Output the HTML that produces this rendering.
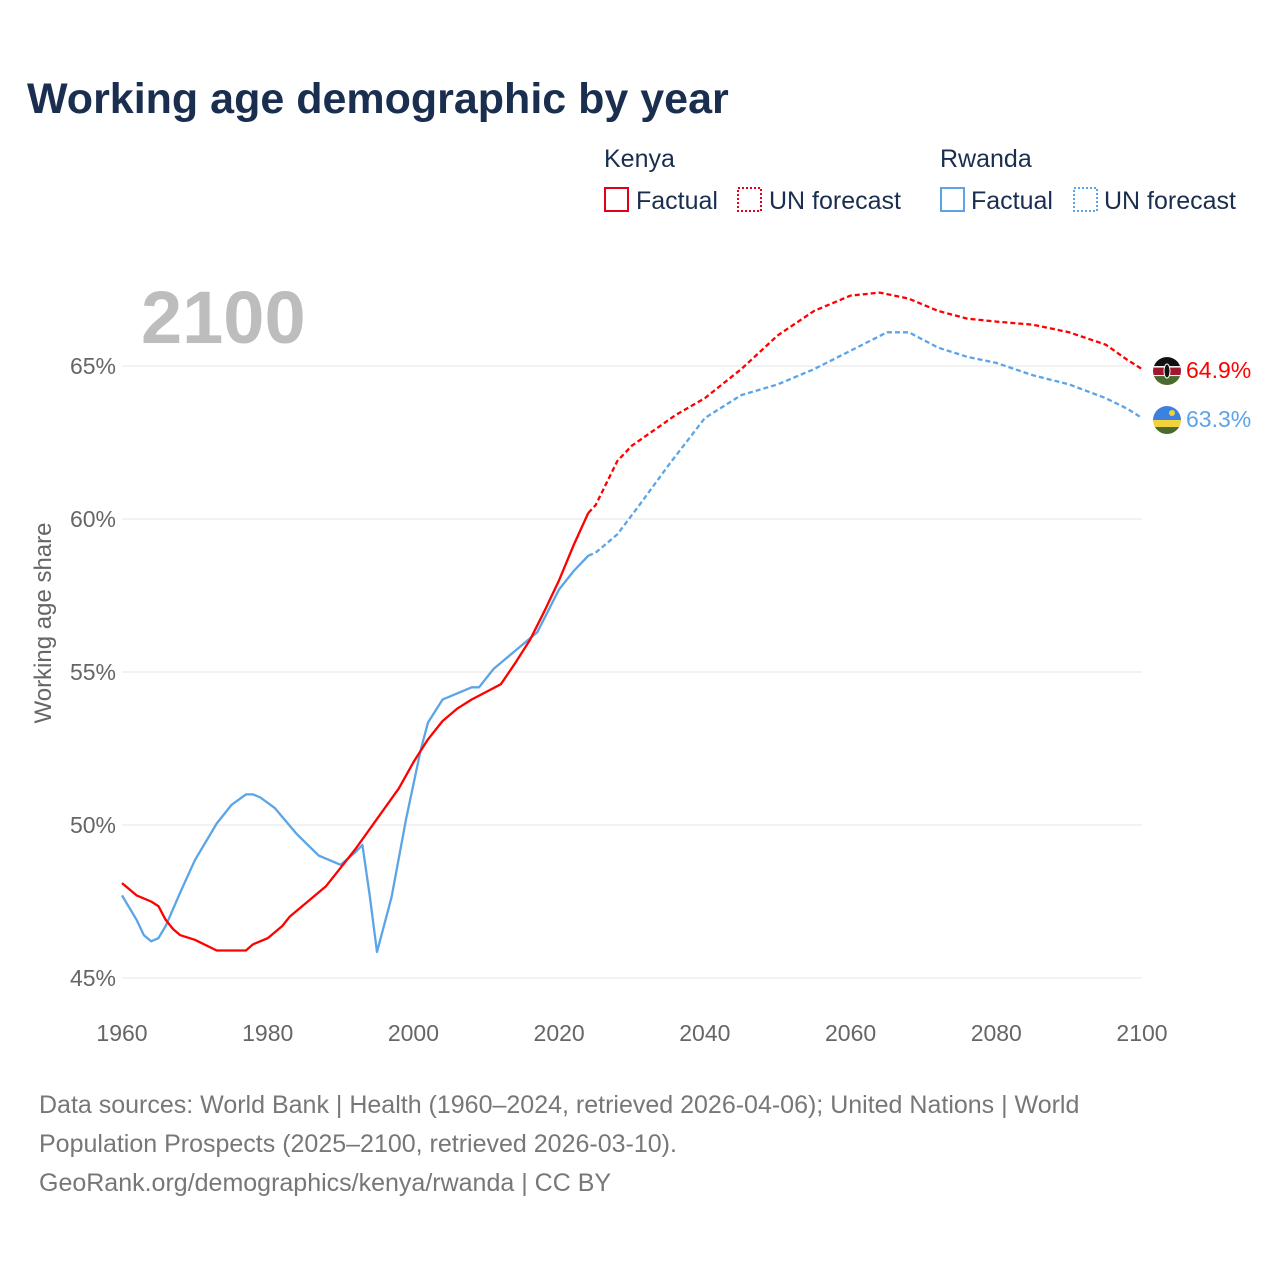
<!DOCTYPE html>
<html><head><meta charset="utf-8"><style>
body{margin:0;background:#fff;font-family:"Liberation Sans",sans-serif}
svg text{font-family:"Liberation Sans",sans-serif}
</style></head><body>
<svg id="c" width="1280" height="1280" viewBox="0 0 1280 1280">
<text x="27" y="113" font-size="43" font-weight="bold" fill="#1a2e4f">Working age demographic by year</text>
<g font-size="25" fill="#1a2e4f">
<text x="604" y="167" fill="#1a2e4f">Kenya</text>
<rect x="605" y="188" width="23" height="23" fill="none" stroke="#e0001b" stroke-width="2"/>
<text x="636" y="209" fill="#1a2e4f">Factual</text>
<rect x="738" y="188" width="23" height="23" fill="none" stroke="#e0001b" stroke-width="2" stroke-dasharray="2,2"/>
<text x="769" y="209" fill="#1a2e4f">UN forecast</text>
<text x="940" y="167" fill="#1a2e4f">Rwanda</text>
<rect x="941" y="188" width="23" height="23" fill="none" stroke="#5ba4e8" stroke-width="2"/>
<text x="971" y="209" fill="#1a2e4f">Factual</text>
<rect x="1074" y="188" width="23" height="23" fill="none" stroke="#5ba4e8" stroke-width="2" stroke-dasharray="2,2"/>
<text x="1104" y="209" fill="#1a2e4f">UN forecast</text>
</g>
<text x="141" y="343" font-size="74" font-weight="bold" fill="#bdbdbd">2100</text>
<text transform="translate(51,623) rotate(-90)" text-anchor="middle" font-size="24" fill="#666">Working age share</text>
<g id="grid"></g><g id="lines"></g><g id="ends"></g>
<g font-size="25" fill="#777">
<text x="39" y="1113">Data sources: World Bank | Health (1960–2024, retrieved 2026-04-06); United Nations | World</text>
<text x="39" y="1152">Population Prospects (2025–2100, retrieved 2026-03-10).</text>
<text x="39" y="1191">GeoRank.org/demographics/kenya/rwanda | CC BY</text>
</g>
</svg>
<script>
const yTicks=[45,50,55,60,65];
const xTicks=[1960,1980,2000,2020,2040,2060,2080,2100];
const kenyaFactYears=[1960,1962,1964,1965,1966,1967,1968,1970,1973,1977,1978,1980,1982,1983,1985,1988,1990,1992,1995,1998,2000,2002,2004,2006,2008,2010,2012,2014,2016,2018,2020,2022,2024];
const kenyaFactVals=[48.1,47.7,47.5,47.35,46.9,46.6,46.4,46.25,45.9,45.9,46.1,46.3,46.7,47.0,47.4,48.0,48.6,49.2,50.2,51.2,52.05,52.8,53.4,53.8,54.1,54.35,54.6,55.3,56.05,57.0,58.0,59.15,60.2];
const kenyaFcYears=[2024,2025,2028,2030,2033,2036,2040,2045,2050,2055,2060,2064,2068,2072,2076,2080,2085,2090,2095,2098,2100];
const kenyaFcVals=[60.2,60.45,61.9,62.4,62.9,63.4,63.95,64.9,66.0,66.8,67.3,67.4,67.2,66.8,66.55,66.45,66.35,66.1,65.7,65.2,64.9];
const rwFactYears=[1960,1962,1963,1964,1965,1966,1968,1970,1973,1975,1977,1978,1979,1981,1984,1987,1990,1992,1993,1994,1995,1997,1999,2001,2002,2004,2006,2008,2009,2011,2014,2017,2020,2022,2024];
const rwFactVals=[47.7,46.9,46.4,46.2,46.3,46.7,47.8,48.85,50.05,50.65,51.0,51.0,50.9,50.55,49.7,49.0,48.7,49.1,49.35,47.7,45.85,47.65,50.2,52.45,53.35,54.1,54.3,54.5,54.5,55.1,55.7,56.3,57.7,58.3,58.8];
const rwFcYears=[2024,2025,2028,2031,2035,2040,2045,2050,2055,2060,2065,2068,2072,2076,2080,2085,2090,2095,2098,2100];
const rwFcVals=[58.8,58.9,59.5,60.45,61.75,63.3,64.05,64.4,64.9,65.5,66.1,66.1,65.6,65.3,65.1,64.7,64.4,63.95,63.6,63.3];
const X=y=>122+(y-1960)*(1020/140);
const Y=v=>366+(65-v)*30.6;
const NS='http://www.w3.org/2000/svg';
function mk(t,a,p){const e=document.createElementNS(NS,t);for(const k in a)e.setAttribute(k,a[k]);p.appendChild(e);return e;}
const grid=document.getElementById('grid');
yTicks.forEach(v=>{
 const l=mk('line',{x1:122,x2:1142,y1:Y(v),y2:Y(v),stroke:'#e6e6e6','stroke-width':1},grid);
 
 
 const t=mk('text',{x:116,y:Y(v)+8,'text-anchor':'end','font-size':23,fill:'#666'},grid);
 t.textContent=v+'%';
 
 
});
xTicks.forEach(y=>{
 const t=mk('text',{x:X(y),y:1041,'text-anchor':'middle','font-size':23,fill:'#666'},grid);
 t.textContent=y;
 
 
});
const lines=document.getElementById('lines');
function line(xs,vs,col,dash,name){
 const d=xs.map((y,i)=>(i?'L':'M')+X(y).toFixed(1)+','+Y(vs[i]).toFixed(1)).join('');
 const p=mk('path',{d:d,fill:'none',stroke:col,'stroke-width':2.3,'stroke-linejoin':'round'},lines);
 if(dash)p.setAttribute('stroke-dasharray','5,3');
 
 
}
line(rwFactYears,rwFactVals,'#5ba4e8',false,'rwanda-factual-line');
line(rwFcYears,rwFcVals,'#5ba4e8',true,'rwanda-forecast-line');
line(kenyaFactYears,kenyaFactVals,'#ff0000',false,'kenya-factual-line');
line(kenyaFcYears,kenyaFcVals,'#ff0000',true,'kenya-forecast-line');
const ends=document.getElementById('ends');
const kv=kenyaFcVals[kenyaFcVals.length-1], rv=rwFcVals[rwFcVals.length-1];
const cx=1167;
let ky=Y(kv)+2;
let g=mk('g',{},ends);


const ck=mk('clipPath',{id:'ck'},g);mk('circle',{cx:cx,cy:ky,r:14},ck);
let gk=mk('g',{'clip-path':'url(#ck)'},g);
mk('rect',{x:cx-14,y:ky-14,width:28,height:10,fill:'#111'},gk);
mk('rect',{x:cx-14,y:ky-4,width:28,height:9,fill:'#a01830'},gk);
mk('rect',{x:cx-14,y:ky-5,width:28,height:1.5,fill:'#fff'},gk);
mk('rect',{x:cx-14,y:ky+4,width:28,height:1.5,fill:'#fff'},gk);
mk('rect',{x:cx-14,y:ky+5,width:28,height:10,fill:'#4a6a2e'},gk);
mk('ellipse',{cx:cx,cy:ky,rx:3,ry:7,fill:'#111',stroke:'#fff','stroke-width':1},gk);
let t=mk('text',{x:1186,y:Y(kv)+9,'font-size':23,fill:'#ff0000'},ends);
t.textContent=kv.toFixed(1)+'%';


let ry=Y(rv)+2;
g=mk('g',{},ends);


const cp=mk('clipPath',{id:'cr'},g);mk('circle',{cx:cx,cy:ry,r:14},cp);
let gr=mk('g',{'clip-path':'url(#cr)'},g);
mk('rect',{x:cx-14,y:ry-14,width:28,height:14,fill:'#3b82e0'},gr);
mk('rect',{x:cx-14,y:ry,width:28,height:7,fill:'#f2d23a'},gr);
mk('rect',{x:cx-14,y:ry+7,width:28,height:8,fill:'#4a6a2e'},gr);
mk('circle',{cx:cx+5,cy:ry-7,r:3,fill:'#f2d23a'},gr);
t=mk('text',{x:1186,y:Y(rv)+9,'font-size':23,fill:'#5ba4e8'},ends);
t.textContent=rv.toFixed(1)+'%';


</script>
</body></html>
